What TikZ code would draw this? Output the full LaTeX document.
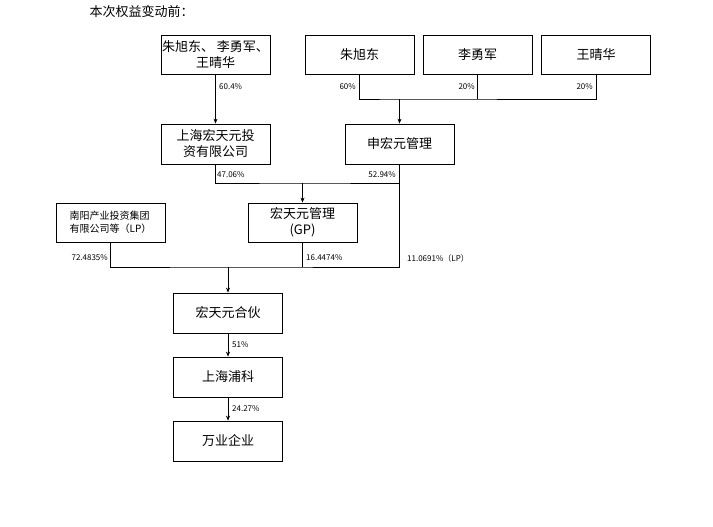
\documentclass[tikz,border=0pt]{standalone}
\usepackage{fontspec}
\setmainfont{Liberation Sans}
\newfontfamily\cjk{Noto Sans CJK SC}
\usetikzlibrary{arrows.meta,calc,positioning}
\tikzset{
	org/.style={draw,thick,minimum width=109pt,minimum height=39pt,inner sep=1pt,
		align=center,font=\cjk\fontsize{13}{16}\selectfont},
	org small/.style={org,font=\cjk\fontsize{10}{13}\selectfont,align=left},
	pct/.style={font=\cjk\fontsize{8}{10}\selectfont,inner sep=1pt},
	ln/.style={draw,semithick},
	ar/.style={ln,-{Stealth[length=5pt,width=4pt]}}
}
\begin{document}
\begin{tikzpicture}[x=1pt,y=-1pt]
	\useasboundingbox (0,0) rectangle (713,527);
	\node[anchor=west,font=\cjk\fontsize{13}{16}\selectfont] (title) at (86,12) {本次权益变动前：};
	% top row
	\node[org] (zlw) at (215.5,55) {朱旭东、 李勇军、\\王晴华};
	\node[org] (zxd) at (359.5,55) {朱旭东};
	\node[org] (lyj) at (477.5,55) {李勇军};
	\node[org] (wqh) at (596,55) {王晴华};
	% middle rows
	\node[org,minimum height=40pt] (shtz) at (215.5,144) {上海宏天元投\\资有限公司};
	\node[org,minimum height=40pt] (shy) at (399.5,144) {申宏元管理};
	\node[org small] (ny) at (110.5,222.5) {南阳产业投资集团\\有限公司等（LP）};
	\node[org] (hty) at (302.5,222.5) {宏天元管理\\(GP)};
	% bottom chain
	\node[org,minimum height=40pt] (hhh) at (228,313) {宏天元合伙};
	\node[org,minimum height=40pt] (shpk) at (228,377) {上海浦科};
	\node[org,minimum height=40pt] (wy) at (228,441) {万业企业};
	% joints
	\coordinate (j1) at (399.5,99);
	\coordinate (j2) at (302.5,183);
	\coordinate (j3) at (228,267);
	\draw[ar] (zlw) -- (shtz);
	\draw[ln] (zxd.south) |- (j1) -| (wqh.south);
	\draw[ln] (lyj.south) -- (lyj.south |- j1);
	\draw[ar] (j1) -- (shy);
	\draw[ln] (shtz.south) |- (j2) -| (shy.south);
	\draw[ar] (j2) -- (hty);
	\draw[ln] (ny.south) |- (j3) -| (shy.south);
	\draw[ln] (hty.south) -- (hty.south |- j3);
	\draw[ar] (j3) -- (hhh);
	\draw[ar] (hhh) -- (shpk);
	\draw[ar] (shpk) -- (wy);
	% shares
	\node[pct,anchor=west] (p1) at (218,87) {60.4\%};
	\node[pct,anchor=east] (p2) at (357,87) {60\%};
	\node[pct,anchor=east] (p3) at (476,87) {20\%};
	\node[pct,anchor=east] (p4) at (594,87) {20\%};
	\node[pct,anchor=west] (p5) at (216,175) {47.06\%};
	\node[pct,anchor=east] (p6) at (397,175) {52.94\%};
	\node[pct,anchor=east] (p7) at (109,258) {72.4835\%};
	\node[pct,anchor=west] (p8) at (305,258) {16.4474\%};
	\node[pct,anchor=west] (p9) at (406,258) {11.0691\%（LP）};
	\node[pct,anchor=west] (p10) at (231,345) {51\%};
	\node[pct,anchor=west] (p11) at (231,409) {24.27\%};
\end{tikzpicture}
\end{document}
